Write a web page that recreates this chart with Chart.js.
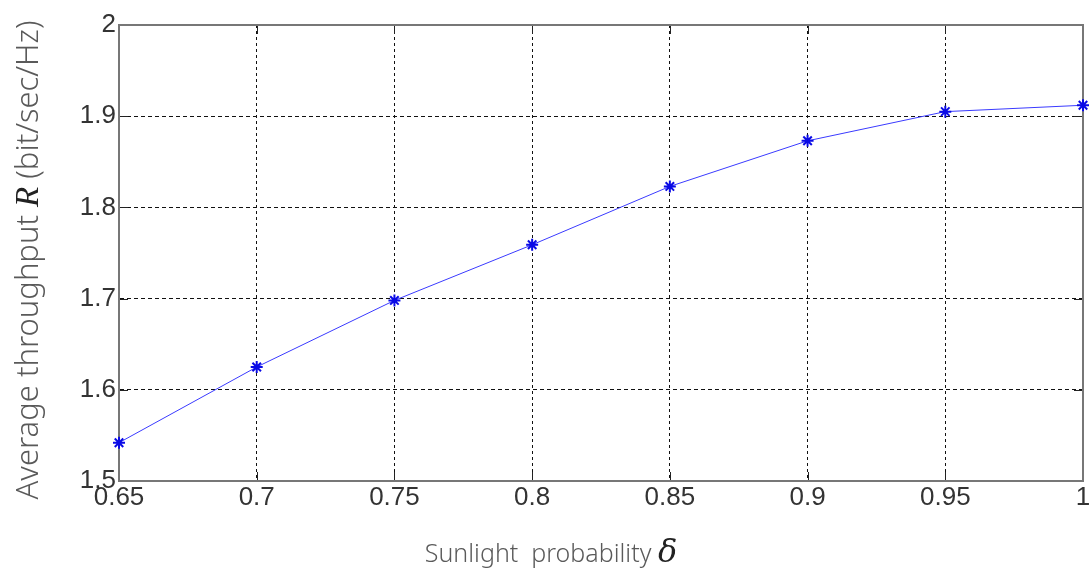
<!DOCTYPE html>
<html>
<head>
<meta charset="utf-8">
<script src="https://cdn.jsdelivr.net/npm/chart.js@4"></script>
<style>
  html, body { margin: 0; padding: 0; background: #fff; }
  #wrap { width: 1092px; height: 576px; }
</style>
</head>
<body>
<div id="wrap"><canvas id="chart" width="1092" height="576"></canvas></div>
<script>
// data
var sunlightProb = [0.65, 0.7, 0.75, 0.8, 0.85, 0.9, 0.95, 1.0];
var throughput = [1.542, 1.625, 1.698, 1.759, 1.823, 1.873, 1.905, 1.912];
var xTicks = [0.65, 0.7, 0.75, 0.8, 0.85, 0.9, 0.95, 1];
var yTicks = [1.5, 1.6, 1.7, 1.8, 1.9, 2];

var points = sunlightProb.map(function(p, i){ return {x: p, y: throughput[i]}; });

// grey box round the plot with short inward ticks, like matlab
var plotBox = {
  id: 'plotBox',
  beforeDatasetsDraw: function(chart){
    var ctx = chart.ctx;
    var a = chart.chartArea;
    var sx = chart.scales.x, sy = chart.scales.y;
    ctx.save();
    ctx.strokeStyle = '#222';
    ctx.lineWidth = 1;
    ctx.setLineDash([]);
    ctx.beginPath();
    xTicks.forEach(function(v){
      var px = Math.round(sx.getPixelForValue(v)) + 0.5;
      ctx.moveTo(px, a.bottom); ctx.lineTo(px, a.bottom - 9);
      ctx.moveTo(px, a.top); ctx.lineTo(px, a.top + 9);
    });
    yTicks.forEach(function(v){
      var py = Math.round(sy.getPixelForValue(v)) + 0.5;
      ctx.moveTo(a.left, py); ctx.lineTo(a.left + 9, py);
      ctx.moveTo(a.right, py); ctx.lineTo(a.right - 9, py);
    });
    ctx.stroke();
    ctx.strokeStyle = '#777';
    ctx.lineWidth = 2;
    ctx.strokeRect(a.left, a.top, a.right - a.left, a.bottom - a.top);
    ctx.restore();
  }
};

// axis titles mix a plain font with italic math symbols, so draw them by hand
var axisTitles = {
  id: 'axisTitles',
  afterDraw: function(chart){
    var ctx = chart.ctx;
    ctx.save();
    ctx.textBaseline = 'alphabetic';

    // x title
    var xParts = [
      {t: 'Sunlight  probability ', f: '300 25px "Noto Sans"'},
      {t: '\u03B4', f: 'italic 32px "DejaVu Serif"'}
    ];
    drawParts(ctx, xParts, 551, 562);

    // y title (rotated)
    ctx.translate(38, 260);
    ctx.rotate(-Math.PI / 2);
    var yParts = [
      {t: 'Average throughput ', f: '300 31px "Noto Sans"'},
      {t: 'R', f: 'italic 33px "Liberation Serif"'},
      {t: ' (bit/sec/Hz)', f: '300 31px "Noto Sans"'}
    ];
    drawParts(ctx, yParts, 0, 0);
    ctx.restore();
  }
};

function drawParts(ctx, parts, cx, by){
  var total = 0;
  parts.forEach(function(p){ ctx.font = p.f; total += ctx.measureText(p.t).width; });
  var x = cx - total / 2;
  parts.forEach(function(p){
    ctx.font = p.f;
    ctx.fillStyle = (p.t === '\u03B4' || p.t === 'R') ? '#222' : '#5a5a5a';
    ctx.fillText(p.t, x, by);
    x += ctx.measureText(p.t).width;
  });
}

var ctxL = document.getElementById('chart').getContext('2d');
var myChart = new Chart(ctxL, {
  type: 'line',
  data: {
    datasets: [{
      data: points,
      borderColor: '#3a3aff',
      borderWidth: 1,
      pointStyle: 'star',
      pointRadius: 6,
      pointBorderWidth: 2,
      pointBorderColor: '#0a0ae6',
      pointBackgroundColor: '#0a0ae6',
      tension: 0,
      fill: false,
      clip: false
    }]
  },
  plugins: [plotBox, axisTitles],
  options: {
    responsive: false,
    animation: false,
    layout: { padding: { top: 25, right: 9, left: 0, bottom: 0 } },
    plugins: {
      legend: { display: false },
      tooltip: { enabled: false }
    },
    scales: {
      x: {
        type: 'linear',
        min: 0.65,
        max: 1,
        afterBuildTicks: function(axis){
          axis.ticks = xTicks.map(function(v){ return {value: v}; });
        },
        afterFit: function(axis){ axis.height = 95; },
        ticks: {
          font: { family: '"Liberation Sans", Arial', size: 26 },
          color: '#333',
          padding: 1,
          maxRotation: 0,
          autoSkip: false,
          callback: function(v){ return String(+v.toFixed(2)); }
        },
        grid: {
          color: '#111',
          lineWidth: 1,
          drawTicks: false,
          tickLength: 0
        },
        border: { display: true, color: '#777', width: 2, dash: [3, 3] }
      },
      y: {
        min: 1.5,
        max: 2,
        afterBuildTicks: function(axis){
          axis.ticks = yTicks.map(function(v){ return {value: v}; });
        },
        afterFit: function(axis){ axis.width = 119; },
        ticks: {
          font: { family: '"Liberation Sans", Arial', size: 26 },
          color: '#333',
          padding: 3,
          callback: function(v){ return String(+v.toFixed(1)); }
        },
        grid: {
          color: '#111',
          lineWidth: 1,
          drawTicks: false,
          tickLength: 0
        },
        border: { display: true, color: '#777', width: 2, dash: [4, 3] }
      }
    }
  }
});
</script>
</body>
</html>
